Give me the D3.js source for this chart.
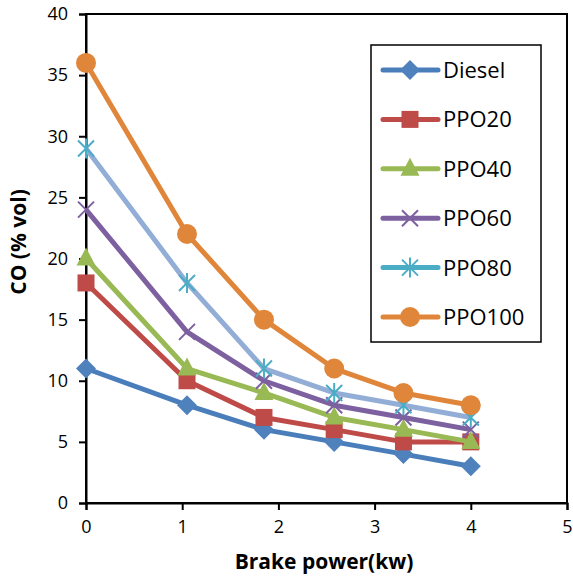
<!DOCTYPE html>
<html>
<head>
<meta charset="utf-8">
<script src="https://cdn.jsdelivr.net/npm/d3@7"></script>
<style>
  body { margin: 0; background: #fff; }
  svg text { font-family: "Open Sans", "Noto Sans", sans-serif; fill: #000; }
</style>
</head>
<body>
<svg width="573" height="579"></svg>
<script>
// brake power (kw) readings
const power = [0, 1.05, 1.85, 2.58, 3.3, 4];

const diesel = [11, 8, 6, 5, 4, 3];
const ppo20 = [18, 10, 7, 6, 5, 5];
const ppo40 = [20, 11, 9, 7, 6, 5];
const ppo60 = [24, 14, 10, 8, 7, 6];
const ppo80 = [29, 18, 11, 9, 8, 7];
const ppo100 = [36, 22, 15, 11, 9, 8];

const seriesNames = ["Diesel", "PPO20", "PPO40", "PPO60", "PPO80", "PPO100"];
const xTicks = [0, 1, 2, 3, 4, 5];
const yTicks = [0, 5, 10, 15, 20, 25, 30, 35, 40];

const series = [
  { name: "Diesel", values: diesel, line: "#4A7EBB", marker: "#4F81BD", shape: "diamond" },
  { name: "PPO20", values: ppo20, line: "#BE4B48", marker: "#BE4B48", shape: "square" },
  { name: "PPO40", values: ppo40, line: "#98B954", marker: "#98B954", shape: "triangle" },
  { name: "PPO60", values: ppo60, line: "#7D60A0", marker: "#7D60A0", shape: "x" },
  { name: "PPO80", values: ppo80, line: "#93AED6", marker: "#4BACC6", legendLine: "#4BACC6", shape: "star" },
  { name: "PPO100", values: ppo100, line: "#E0863A", marker: "#E0863A", shape: "circle" }
];

const svg = d3.select("svg");
const plotL = 86, plotR = 567, plotT = 14, plotB = 503;

const x = d3.scaleLinear().domain([0, 5]).range([plotL, plotR]);
const y = d3.scaleLinear().domain([0, 40]).range([plotB, plotT]);

// plot frame
svg.append("rect")
  .attr("x", plotL).attr("y", plotT)
  .attr("width", plotR - plotL).attr("height", plotB - plotT)
  .attr("fill", "none").attr("stroke", "#000").attr("stroke-width", 2);

const xAxis = svg.append("g")
  .attr("transform", "translate(0," + plotB + ")")
  .call(d3.axisBottom(x).tickValues(xTicks).tickSize(7).tickPadding(10).tickFormat(d3.format("d")));
const yAxis = svg.append("g")
  .attr("transform", "translate(" + plotL + ",0)")
  .call(d3.axisLeft(y).tickValues(yTicks).tickSize(7).tickPadding(11).tickFormat(d3.format("d")));

[xAxis, yAxis].forEach(g => {
  g.select(".domain").attr("stroke", "#000").attr("stroke-width", 2);
  g.selectAll(".tick line").attr("stroke", "#000").attr("stroke-width", 2);
  g.selectAll(".tick text").style("font-size", "18px").attr("fill", "#000");
});

// marker drawing
function drawMarker(g, shape, color, cx, cy) {
  const m = g.append("g").attr("transform", "translate(" + cx + "," + cy + ")");
  if (shape === "diamond") {
    m.append("path").attr("d", "M0,-10L10,0L0,10L-10,0Z").attr("fill", color);
  } else if (shape === "square") {
    m.append("rect").attr("x", -8.5).attr("y", -8.5).attr("width", 17).attr("height", 17).attr("fill", color);
  } else if (shape === "triangle") {
    m.append("path").attr("d", "M0,-11L9.5,7L-9.5,7Z").attr("fill", color);
  } else if (shape === "circle") {
    m.append("circle").attr("r", 10).attr("fill", color);
  } else if (shape === "x") {
    m.append("path").attr("d", "M-8,-8L8,8M-8,8L8,-8")
      .attr("stroke", color).attr("stroke-width", 2).attr("fill", "none");
  } else if (shape === "star") {
    m.append("path").attr("d", "M-8,-8L8,8M-8,8L8,-8M0,-10L0,10")
      .attr("stroke", color).attr("stroke-width", 2).attr("fill", "none");
  }
}

const line = d3.line()
  .x((d, i) => x(power[i]))
  .y(d => y(d));

series.forEach(s => {
  const g = svg.append("g");
  g.append("path")
    .attr("d", line(s.values))
    .attr("fill", "none")
    .attr("stroke", s.line)
    .attr("stroke-width", 5)
    .attr("stroke-linejoin", "round");
  s.values.forEach((v, i) => drawMarker(g, s.shape, s.marker, x(power[i]), y(v)));
});

// legend
const legend = svg.append("g");
legend.append("rect")
  .attr("x", 371).attr("y", 45).attr("width", 170).attr("height", 297)
  .attr("fill", "#fff").attr("stroke", "#000").attr("stroke-width", 1.5);

series.forEach((s, i) => {
  const ly = 70 + i * 49.4;
  legend.append("line")
    .attr("x1", 383).attr("x2", 438).attr("y1", ly).attr("y2", ly)
    .attr("stroke", s.legendLine || s.line).attr("stroke-width", 5).attr("stroke-linecap", "round");
  drawMarker(legend, s.shape, s.marker, 410, ly);
  legend.append("text")
    .attr("x", 443).attr("y", ly + 8)
    .style("font-size", "22px")
    .text(seriesNames[i]);
});

// axis titles
svg.append("text")
  .attr("x", 324).attr("y", 569)
  .attr("text-anchor", "middle")
  .style("font-size", "21px").style("font-weight", "bold")
  .text("Brake power(kw)");

svg.append("text")
  .attr("transform", "translate(26,242) rotate(-90)")
  .attr("text-anchor", "middle")
  .style("font-size", "21px").style("font-weight", "bold")
  .text("CO (% vol)");
</script>
</body>
</html>
